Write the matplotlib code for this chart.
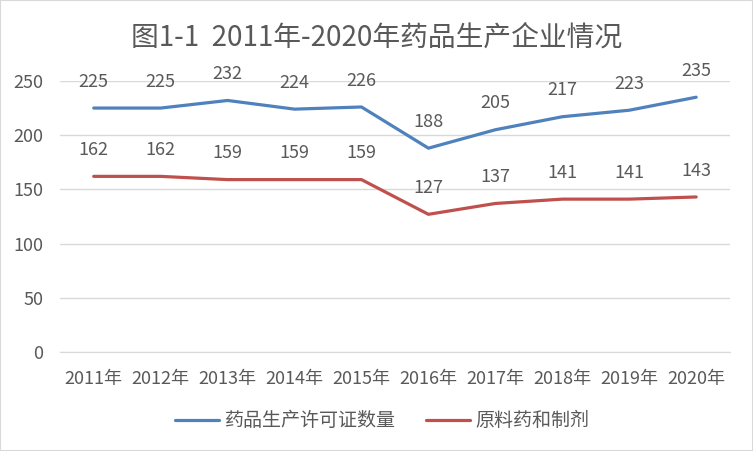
import matplotlib.pyplot as plt

plt.rcParams['font.family'] = ['Noto Sans CJK SC', 'DejaVu Sans']

years = ["2011年", "2012年", "2013年", "2014年", "2015年",
         "2016年", "2017年", "2018年", "2019年", "2020年"]
licenses = [225, 225, 232, 224, 226, 188, 205, 217, 223, 235]
api_prep = [162, 162, 159, 159, 159, 127, 137, 141, 141, 143]

TEXT = "#595959"
BLUE = "#4F81BD"
RED = "#C0504D"

fig = plt.figure(figsize=(7.53, 4.51), dpi=100)
ax = fig.add_axes([0.08, 0.2195, 0.889, 0.601])

x = range(len(years))
ax.plot(x, licenses, color=BLUE, lw=2.3, label="药品生产许可证数量", solid_capstyle="round")
ax.plot(x, api_prep, color=RED, lw=2.3, label="原料药和制剂", solid_capstyle="round")

for i in x:
    ax.annotate(str(licenses[i]), (i, licenses[i]), xytext=(0, 19), textcoords="offset points",
                ha="center", va="center", fontsize=13, color=TEXT)
    ax.annotate(str(api_prep[i]), (i, api_prep[i]), xytext=(0, 19), textcoords="offset points",
                ha="center", va="center", fontsize=13, color=TEXT)

ax.set_xlim(-0.5, len(years) - 0.5)
ax.set_ylim(0, 250)
ax.set_yticks([0, 50, 100, 150, 200, 250])
ax.set_xticks(list(x))
ax.set_xticklabels(years)
ax.tick_params(axis="both", length=0, labelsize=13, labelcolor=TEXT)
ax.tick_params(axis="y", pad=12)
ax.tick_params(axis="x", pad=13)
ax.grid(axis="y", color="#D9D9D9", lw=1)
ax.set_axisbelow(True)
for s in ["top", "right", "left"]:
    ax.spines[s].set_visible(False)
ax.spines["bottom"].set_color("#D9D9D9")

fig.text(0.5, 0.917, "图1-1  2011年-2020年药品生产企业情况", ha="center", va="center",
         fontsize=20, color=TEXT, fontweight="light")

fig.legend(loc="center", bbox_to_anchor=(0.508, 0.067), ncol=2, frameon=False,
           fontsize=13.7, labelcolor=TEXT, handlelength=2.3, columnspacing=1.6, handletextpad=0.3)

fig.patches.append(plt.Rectangle((0, 0), 1, 1, transform=fig.transFigure, fill=False,
                                 edgecolor="#D9D9D9", lw=1.5))

fig.savefig("out.png", dpi=100)
